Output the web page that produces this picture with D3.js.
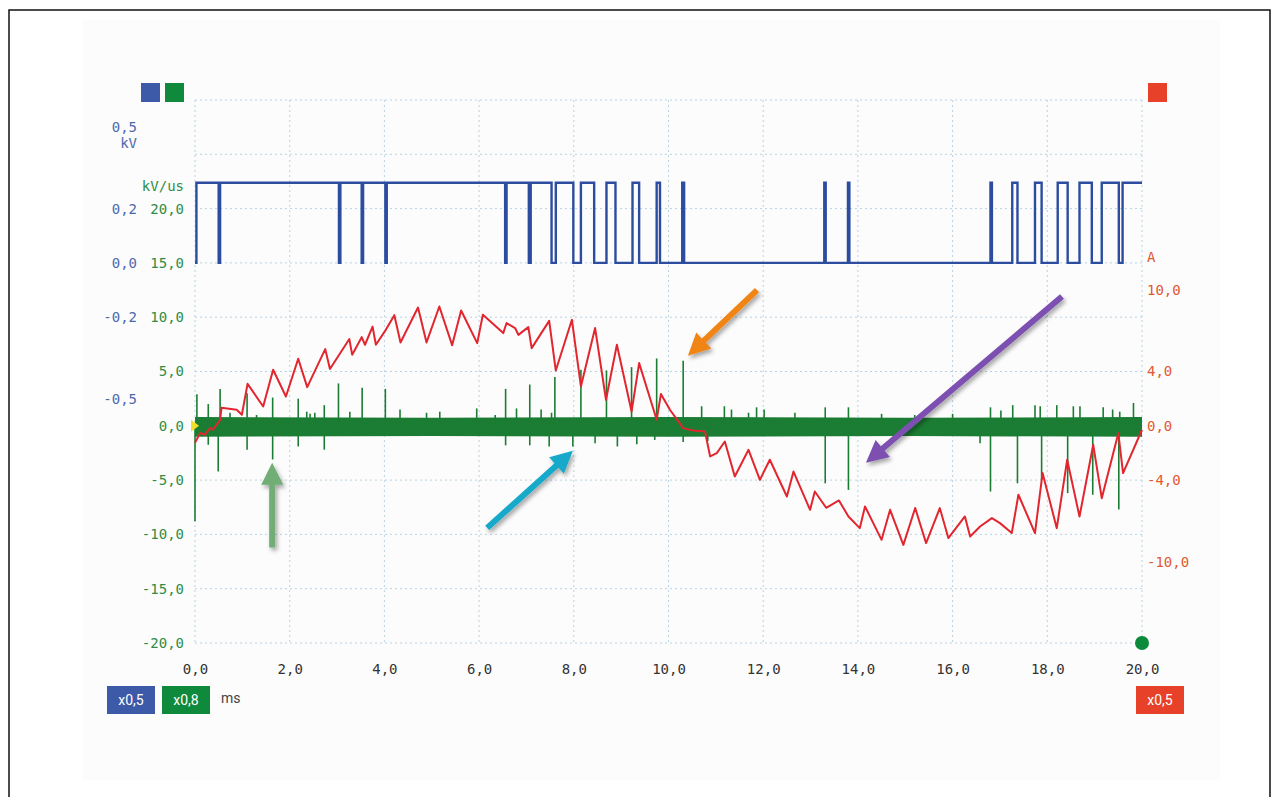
<!DOCTYPE html>
<html>
<head>
<meta charset="utf-8">
<script src="https://cdn.jsdelivr.net/npm/d3@7"></script>
<style>
  html, body { margin: 0; padding: 0; background: #fff; }
  svg text { font-family: "DejaVu Sans Mono", monospace; font-size: 14px; }
</style>
</head>
<body>
<svg id="chart" width="1279" height="797"></svg>
<script>
// ── Data ─────────────────────────────────────────────────────────
const xTicks = [0, 2, 4, 6, 8, 10, 12, 14, 16, 18, 20];            // ms
const blueTicks = [0.5, 0.2, 0.0, -0.2, -0.5];                      // kV
const greenTicks = [20, 15, 10, 5, 0, -5, -10, -15, -20];           // kV/us
const redTicks = [10, 4, 0, -4, -10];                               // A

// blue: voltage, high level segments (ms)
const blueLow = 0.0;
const blueHigh = 0.295;
const blueHighIntervals = [
  [0.03, 0.50], [0.53, 3.04], [3.07, 3.52], [3.55, 4.02], [4.05, 6.55],
  [6.58, 7.05], [7.09, 7.53], [7.62, 7.99], [8.15, 8.43], [8.69, 8.88],
  [9.24, 9.38], [9.75, 9.82], [10.29, 10.33], [13.29, 13.32], [13.79, 13.82],
  [16.80, 16.83], [17.26, 17.37], [17.74, 17.88], [18.22, 18.43], [18.68, 18.94],
  [19.15, 19.51], [19.59, 20.0]
];

// red: current (A)
const redT = [0.00,0.11,0.21,0.32,0.38,0.53,0.56,0.88,0.99,1.11,1.44,1.65,1.92,2.18,2.37,2.75,2.85,3.26,3.32,3.52,
  3.59,3.75,3.82,4.03,4.21,4.34,4.71,4.89,5.16,5.43,5.62,5.96,6.08,6.51,6.58,6.76,6.83,7.04,7.11,7.48,
  7.62,7.96,8.15,8.45,8.68,8.91,9.22,9.38,9.75,9.84,10.03,10.31,10.52,10.77,10.88,11.02,11.19,11.40,11.69,11.93,
  12.14,12.50,12.64,12.99,13.09,13.33,13.60,13.80,14.04,14.15,14.50,14.68,14.96,15.21,15.44,15.73,15.91,16.26,16.37,16.58,
  16.83,17.00,17.25,17.39,17.74,17.90,18.20,18.42,18.68,18.97,19.15,19.50,19.60,20.00];
const redA = [-1.25,-0.52,-0.66,-0.15,-0.29,0.44,1.33,1.18,0.81,3.09,1.42,4.13,2.16,4.94,2.85,5.65,4.18,6.39,5.23,6.53,
  5.97,7.31,5.97,7.07,8.15,6.14,8.71,6.14,8.79,5.94,8.49,6.09,8.18,6.83,7.57,7.20,6.70,7.27,5.72,7.73,
  4.07,7.81,2.90,7.20,1.92,5.97,1.05,4.62,0.44,2.34,1.18,-0.17,-0.35,-0.42,-2.26,-2.01,-1.16,-3.73,-1.77,-3.98,
  -2.50,-5.21,-3.37,-6.19,-4.84,-6.04,-5.50,-6.68,-7.54,-5.94,-8.40,-6.19,-8.77,-6.06,-8.64,-6.06,-8.27,-6.68,-8.15,-7.42,
  -6.80,-7.17,-7.90,-5.08,-7.90,-3.48,-7.54,-2.50,-6.68,-1.40,-5.33,-0.54,-3.48,-0.29];

// green: dv/dt noise band and spikes (kV/us)
const greenBandT = [0, 5, 10, 15, 20];
const greenBandHi = [0.8, 0.75, 0.8, 0.75, 0.8];
const greenBandLo = [-1.0, -0.95, -1.0, -0.95, -1.0];
const greenUpT = [0.04,0.28,0.53,0.74,1.10,1.30,1.64,2.18,2.36,2.43,2.53,2.73,3.03,3.27,3.53,4.02,4.33,4.89,5.17,5.95,
  6.34,6.56,6.79,7.07,7.31,7.53,7.60,8.15,8.69,9.22,9.75,10.31,10.70,11.18,11.33,11.69,11.86,12.02,12.67,13.31,
  13.80,14.50,15.20,16.00,16.80,17.02,17.27,17.74,17.85,18.20,18.55,18.69,19.18,19.38,19.53,19.82];
const greenUpV = [2.9,2.0,3.4,1.2,3.0,1.0,2.6,2.5,1.3,1.1,1.2,1.9,3.9,1.3,3.5,3.4,1.5,1.2,1.3,1.6,
  1.0,3.4,1.6,3.8,1.5,1.2,4.5,5.15,5.1,5.4,6.2,6.0,1.8,1.8,1.5,1.2,1.7,1.5,1.2,1.7,
  1.7,1.1,1.0,1.1,1.7,1.4,1.9,1.9,1.8,1.9,1.8,1.8,1.7,1.5,1.3,2.1];
const greenDownT = [0.00,0.28,0.49,1.10,1.64,2.18,2.73,6.56,7.07,7.48,7.98,8.45,8.92,9.33,9.71,10.31,10.83,
  13.31,13.80,16.58,16.80,17.37,17.88,18.43,18.96,19.51];
const greenDownV = [-8.8,-1.75,-4.2,-2.2,-3.1,-1.9,-2.2,-1.8,-1.8,-1.9,-1.9,-1.6,-1.9,-1.7,-1.3,-1.5,-1.4,
  -5.3,-5.9,-1.6,-6.05,-5.3,-5.0,-6.2,-6.35,-7.7];

// annotation arrows: tail -> tip, in (ms, kV/us)
const arrows = [
  { color: '#f08519', from: [11.87, 12.5], to: [10.41, 6.45] },
  { color: '#7b50b0', from: [18.31, 11.9], to: [14.17, -3.4] },
  { color: '#19a9c9', from: [6.17, -9.4], to: [7.98, -2.3] },
  { color: '#6fae74', from: [1.63, -11.2], to: [1.63, -3.4] },
];

// ── Colours ──────────────────────────────────────────────────────
const BLUE = '#2c4d9f', BLUE_TXT = '#5068ad', BLUE_BOX = '#3d5aa8';
const GREEN = '#1b7d33', GREEN_TXT = '#2f8c45', GREEN_BOX = '#0f8a3c';
const RED = '#e2262f', RED_TXT = '#e2592f', RED_BOX = '#e8412a';
const GRID = '#b9d3e2';

const fmt = v => d3.format('.1f')(v).replace('.', ',').replace('\u2212', '-').replace('-0,0', '0,0');

// ── Scales ───────────────────────────────────────────────────────
const x = d3.scaleLinear().domain([0, 20]).range([195, 1142]);
const yTop = 100, yBot = 643;
const yGreen = d3.scaleLinear().domain([-20, 30]).range([yBot, yTop]);
const yBlue = d3.scaleLinear().domain([-1.4, 0.6]).range([yBot, yTop]);
const yRed = d3.scaleLinear().domain([-16, 24]).range([yBot, yTop]);
const yGrid = d3.scaleLinear().domain([0, 10]).range([yBot, yTop]);

const svg = d3.select('#chart');

// frame & panel
svg.append('rect').attr('x', 82).attr('y', 20).attr('width', 1138).attr('height', 760).attr('fill', '#fcfcfc');
svg.append('path').attr('d', 'M9,800V10H1270V800').attr('fill', 'none').attr('stroke', '#111').attr('stroke-width', 1.5);

const defs = svg.append('defs');
const f = defs.append('filter').attr('id', 'shadow').attr('x', '-20%').attr('y', '-20%').attr('width', '140%').attr('height', '140%');
f.append('feDropShadow').attr('dx', 2).attr('dy', 3).attr('stdDeviation', 2).attr('flood-color', '#000').attr('flood-opacity', 0.35);

// ── Grid ─────────────────────────────────────────────────────────
const grid = svg.append('g').attr('stroke', GRID).attr('stroke-width', 1).attr('stroke-dasharray', '2,3');
grid.selectAll('.vg').data(xTicks).enter().append('line')
  .attr('x1', d => x(d)).attr('x2', d => x(d)).attr('y1', yTop).attr('y2', yBot);
grid.selectAll('.hg').data(d3.range(11)).enter().append('line')
  .attr('x1', x(0)).attr('x2', x(20)).attr('y1', d => yGrid(d)).attr('y2', d => yGrid(d));

// ── Axes ─────────────────────────────────────────────────────────
function styleAxis(g, color) {
  g.select('.domain').remove();
  g.selectAll('.tick line').remove();
  g.selectAll('text').attr('fill', color).style('font-family', '"DejaVu Sans Mono", monospace').style('font-size', '14px');
}
svg.append('g').attr('transform', 'translate(137,0)')
  .call(d3.axisLeft(yBlue).tickValues(blueTicks).tickSize(0).tickPadding(0).tickFormat(fmt))
  .call(g => styleAxis(g, BLUE_TXT));
svg.append('g').attr('transform', 'translate(184,0)')
  .call(d3.axisLeft(yGreen).tickValues(greenTicks).tickSize(0).tickPadding(0).tickFormat(fmt))
  .call(g => styleAxis(g, GREEN_TXT));
svg.append('g').attr('transform', 'translate(1147,0)')
  .call(d3.axisRight(yRed).tickValues(redTicks).tickSize(0).tickPadding(0).tickFormat(fmt))
  .call(g => styleAxis(g, RED_TXT));
svg.append('g').attr('transform', `translate(0,${yBot + 21})`)
  .call(d3.axisBottom(x).tickValues(xTicks).tickSize(0).tickPadding(0).tickFormat(fmt))
  .call(g => styleAxis(g, '#333'));

// unit labels
svg.append('text').attr('x', 137).attr('y', yBlue(0.5) + 16).attr('dy', '0.32em').attr('text-anchor', 'end').attr('fill', BLUE_TXT).text('kV');
svg.append('text').attr('x', 184).attr('y', yGreen(20) - 22).attr('dy', '0.32em').attr('text-anchor', 'end').attr('fill', GREEN_TXT).text('kV/us');
svg.append('text').attr('x', 1147).attr('y', yRed(12.4)).attr('dy', '0.32em').attr('fill', RED_TXT).text('A');

// legend squares
svg.append('rect').attr('x', 141).attr('y', 83).attr('width', 19).attr('height', 19).attr('fill', BLUE_BOX);
svg.append('rect').attr('x', 165).attr('y', 83).attr('width', 19).attr('height', 19).attr('fill', GREEN_BOX);
svg.append('rect').attr('x', 1148).attr('y', 83).attr('width', 19).attr('height', 19).attr('fill', RED_BOX);

// scale boxes
function box(x0, color, label) {
  svg.append('rect').attr('x', x0).attr('y', 686).attr('width', 48).attr('height', 28).attr('fill', color);
  svg.append('text').attr('x', x0 + 24).attr('y', 700).attr('dy', '0.35em').attr('text-anchor', 'middle')
    .attr('fill', '#fff').style('font-family', 'Roboto, sans-serif').style('font-size', '14px').text(label);
}
box(107, BLUE_BOX, 'x0,5');
box(162, GREEN_BOX, 'x0,8');
box(1136, RED_BOX, 'x0,5');
svg.append('text').attr('x', 221).attr('y', 698).attr('dy', '0.35em').attr('fill', '#444')
  .style('font-family', 'Roboto, sans-serif').style('font-size', '14px').text('ms');

// ── Traces ───────────────────────────────────────────────────────
// green band
const band = greenBandT.map((t, i) => ({ t, hi: greenBandHi[i], lo: greenBandLo[i] }));
svg.append('path').datum(band)
  .attr('d', d3.area().x(d => x(d.t)).y0(d => yGreen(d.lo)).y1(d => yGreen(d.hi)))
  .attr('fill', GREEN);
const spikes = greenUpT.map((t, i) => ({ t, v: greenUpV[i] }))
  .concat(greenDownT.map((t, i) => ({ t, v: greenDownV[i] })));
svg.append('g').selectAll('line').data(spikes).enter().append('line')
  .attr('x1', d => x(d.t)).attr('x2', d => x(d.t))
  .attr('y1', yGreen(0)).attr('y2', d => yGreen(d.v))
  .attr('stroke', GREEN).attr('stroke-width', 1.6);

// trigger marker
svg.append('path').attr('d', `M${x(0) - 4},${yGreen(0) - 6}L${x(0) + 4},${yGreen(0)}L${x(0) - 4},${yGreen(0) + 6}Z`).attr('fill', '#f3df2a');

// red current
const red = redT.map((t, i) => ({ t, v: redA[i] }));
svg.append('path').datum(red)
  .attr('d', d3.line().x(d => x(d.t)).y(d => yRed(d.v)))
  .attr('fill', 'none').attr('stroke', RED).attr('stroke-width', 2).attr('stroke-linejoin', 'round');

// blue voltage
const blue = [{ t: 0, v: blueLow }];
blueHighIntervals.forEach(([a, b]) => {
  blue.push({ t: a, v: blueLow }, { t: a, v: blueHigh }, { t: b, v: blueHigh });
  if (b < 20) blue.push({ t: b, v: blueLow });
});
if (blue[blue.length - 1].t < 20) blue.push({ t: 20, v: blueLow });
svg.append('path').datum(blue)
  .attr('d', d3.line().x(d => x(d.t)).y(d => yBlue(d.v)))
  .attr('fill', 'none').attr('stroke', BLUE).attr('stroke-width', 2.4);

// end marker
svg.append('circle').attr('cx', x(20)).attr('cy', yGreen(-20)).attr('r', 7).attr('fill', '#0b8a3a');

// ── Arrows ───────────────────────────────────────────────────────
function arrowPoly(a) {
  const x1 = x(a.from[0]), y1 = yGreen(a.from[1]), x2 = x(a.to[0]), y2 = yGreen(a.to[1]);
  const len = Math.hypot(x2 - x1, y2 - y1);
  const ux = (x2 - x1) / len, uy = (y2 - y1) / len, nx = -uy, ny = ux;
  const w = 3, hw = 11, hl = 22;
  const bx = x2 - ux * hl, by = y2 - uy * hl;
  return [
    [x1 + nx * w, y1 + ny * w], [bx + nx * w, by + ny * w], [bx + nx * hw, by + ny * hw],
    [x2, y2], [bx - nx * hw, by - ny * hw], [bx - nx * w, by - ny * w], [x1 - nx * w, y1 - ny * w]
  ].map(p => p.join(',')).join(' ');
}
svg.append('g').attr('filter', 'url(#shadow)').selectAll('polygon').data(arrows).enter().append('polygon')
  .attr('points', arrowPoly).attr('fill', d => d.color);
</script>
</body>
</html>
